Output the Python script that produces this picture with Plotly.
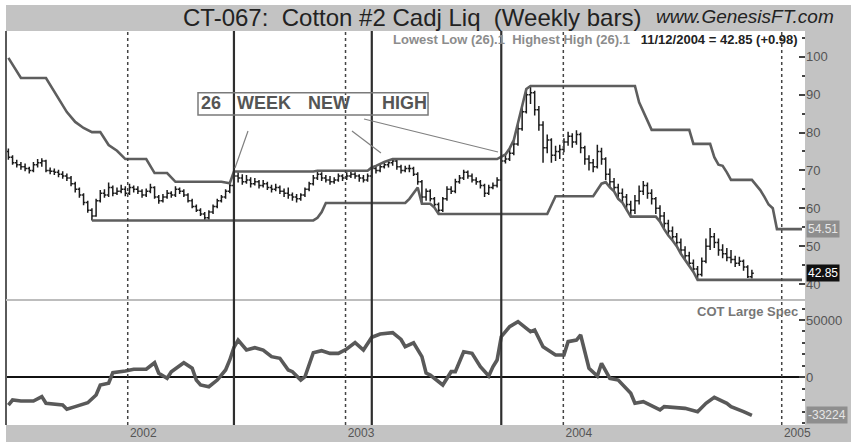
import plotly.graph_objects as go
import pandas as pd

# ---------------- data ----------------
first_week = "2001-06-15"      # weekly bars, Fridays
n_bars = 179                   # 2001-06-15 .. 2004-11-12
n_weeks_total = 191            # indicator lines run on to early Feb 2005

opens = [
    75.0, 73.5, 72.0, 71.5, 71.0, 70.5, 70.0, 71.5, 72.0, 72.5,
    70.0, 69.8, 69.5, 69.0, 68.5, 68.0, 66.5, 65.0, 63.5, 61.5,
    59.5, 58.0, 62.0, 64.0, 63.5, 65.5, 64.0, 64.5, 65.0, 64.0,
    65.5, 65.0, 64.5, 63.5, 64.5, 65.5, 63.0, 62.0, 63.0, 64.0,
    63.5, 65.0, 64.5, 63.5, 62.0, 60.5, 59.5, 58.5, 57.5, 59.0,
    60.5, 62.0, 63.0, 64.5, 66.0, 68.5, 68.0, 67.0, 67.5, 66.5,
    67.0, 66.0, 66.5, 65.5, 65.0, 65.5, 64.5, 64.0, 63.5, 63.0,
    62.5, 63.5, 65.0, 66.5, 68.0, 69.0, 68.0, 67.5, 67.0, 67.5,
    68.5, 68.0, 68.5, 69.0, 68.5, 68.0, 67.5, 68.5, 70.5, 70.0,
    71.0, 71.5, 72.0, 72.5, 71.0, 70.0, 70.5, 70.5, 69.0, 67.0,
    63.0, 64.5, 62.5, 61.0, 59.5, 62.5, 65.0, 64.5, 67.0, 68.0,
    69.5, 68.5, 67.5, 67.0, 66.0, 64.0, 65.5, 66.0, 67.5, 72.5,
    73.0, 74.5, 77.0, 81.0, 85.5, 90.0, 90.5, 86.0, 82.0, 76.0,
    78.0, 74.0, 75.0, 75.5, 77.5, 79.0, 77.5, 79.5, 76.0, 73.0,
    72.0, 71.0, 75.0, 73.0, 69.0, 67.0, 65.5, 64.0, 63.0, 61.0,
    59.5, 62.0, 64.5, 66.0, 64.0, 62.5, 60.0, 58.0, 56.0, 54.0,
    52.5, 51.0, 49.0, 47.5, 45.5, 44.0, 42.5, 46.0, 50.0, 52.5,
    51.0, 49.0, 48.0, 47.0, 46.5, 45.5, 46.0, 44.5, 41.9,
]
highs = [
    75.8, 74.0, 72.8, 72.2, 71.8, 71.0, 72.2, 73.0, 73.2, 72.8,
    70.8, 70.5, 70.2, 69.8, 69.2, 68.5, 67.0, 65.5, 64.0, 62.0,
    60.0, 62.5, 64.8, 65.0, 66.8, 66.0, 65.5, 66.2, 65.8, 66.5,
    66.0, 65.8, 65.0, 65.2, 66.5, 65.8, 63.5, 63.8, 64.8, 64.5,
    65.8, 65.5, 65.0, 64.0, 62.5, 61.0, 60.0, 59.0, 59.5, 61.0,
    62.5, 63.5, 65.0, 66.5, 69.7, 69.5, 69.0, 68.8, 68.2, 68.0,
    67.5, 67.5, 67.0, 66.2, 66.5, 66.0, 65.2, 65.5, 64.2, 63.8,
    64.0, 65.5, 67.0, 68.8, 69.9, 69.5, 68.8, 68.5, 68.2, 69.2,
    69.0, 69.5, 69.8, 69.5, 69.0, 68.8, 69.2, 70.8, 71.2, 71.8,
    72.2, 72.6, 73.0, 72.8, 71.5, 71.2, 71.5, 71.0, 69.5, 67.5,
    65.2, 65.0, 63.0, 61.5, 63.0, 65.8, 65.8, 67.8, 68.8, 70.2,
    70.0, 69.2, 68.2, 67.5, 66.5, 66.2, 66.8, 68.2, 73.5, 74.2,
    75.8, 78.0, 82.5, 87.0, 91.5, 92.3, 91.0, 87.0, 83.0, 79.5,
    78.5, 76.5, 76.8, 78.5, 80.2, 79.8, 80.6, 80.0, 76.5, 74.0,
    73.0, 76.8, 76.0, 73.5, 70.5, 68.0, 66.5, 65.2, 63.8, 62.0,
    63.5, 66.0, 67.2, 66.8, 65.0, 63.0, 60.8, 59.0, 57.0, 55.2,
    53.5, 52.0, 50.0, 48.5, 46.5, 44.8, 47.0, 52.0, 54.8, 53.5,
    52.0, 50.5, 49.5, 49.0, 47.5, 47.2, 46.5, 45.0, 43.8,
]
lows = [
    72.8, 71.5, 70.8, 70.2, 69.8, 69.2, 69.5, 70.8, 71.0, 69.5,
    69.0, 68.8, 68.2, 67.8, 67.2, 65.8, 64.2, 62.8, 60.8, 58.8,
    56.8, 57.8, 61.5, 62.8, 63.0, 63.2, 63.5, 64.0, 63.2, 63.5,
    64.2, 63.8, 62.8, 63.0, 64.0, 62.5, 61.2, 61.5, 62.5, 62.8,
    63.0, 63.8, 63.0, 61.5, 60.0, 59.0, 58.0, 56.8, 57.0, 58.5,
    60.0, 61.5, 62.5, 64.0, 65.5, 66.8, 66.2, 66.5, 65.5, 66.0,
    65.2, 65.5, 64.8, 64.2, 64.5, 63.8, 63.0, 62.5, 62.0, 61.5,
    62.0, 63.0, 64.5, 66.0, 67.5, 67.2, 66.8, 66.2, 66.5, 67.0,
    67.2, 67.5, 68.0, 67.8, 67.0, 66.8, 67.0, 68.0, 69.2, 69.5,
    70.5, 70.8, 71.2, 70.2, 69.2, 69.5, 69.5, 68.5, 66.2, 61.2,
    62.0, 61.8, 60.2, 58.5, 59.0, 62.0, 63.8, 64.0, 66.5, 67.5,
    67.8, 66.8, 66.2, 65.2, 63.0, 63.5, 65.0, 65.5, 67.2, 71.8,
    72.5, 74.0, 76.5, 80.5, 85.0, 87.5, 84.5, 80.5, 72.0, 74.5,
    72.0, 72.5, 73.0, 74.8, 76.5, 76.0, 76.8, 74.5, 71.5, 70.0,
    69.5, 70.5, 71.5, 67.5, 65.5, 64.5, 62.5, 61.5, 59.5, 57.8,
    58.5, 61.0, 63.5, 62.5, 61.0, 58.5, 56.5, 54.5, 52.8, 51.5,
    50.0, 48.0, 46.5, 44.8, 43.2, 41.1, 42.0, 45.5, 49.0, 49.5,
    47.5, 46.8, 46.0, 45.5, 44.5, 44.8, 43.5, 41.6, 41.5,
]
closes = [
    73.5, 72.0, 71.5, 71.0, 70.5, 70.0, 71.5, 72.0, 72.5, 70.0,
    69.8, 69.5, 69.0, 68.5, 68.0, 66.5, 65.0, 63.5, 61.5, 59.5,
    58.0, 62.0, 64.0, 63.5, 65.5, 64.0, 64.5, 65.0, 64.0, 65.5,
    65.0, 64.5, 63.5, 64.5, 65.5, 63.0, 62.0, 63.0, 64.0, 63.5,
    65.0, 64.5, 63.5, 62.0, 60.5, 59.5, 58.5, 57.5, 59.0, 60.5,
    62.0, 63.0, 64.5, 66.0, 68.5, 68.0, 67.0, 67.5, 66.5, 67.0,
    66.0, 66.5, 65.5, 65.0, 65.5, 64.5, 64.0, 63.5, 63.0, 62.5,
    63.5, 65.0, 66.5, 68.0, 69.0, 68.0, 67.5, 67.0, 67.5, 68.5,
    68.0, 68.5, 69.0, 68.5, 68.0, 67.5, 68.5, 70.5, 70.0, 71.0,
    71.5, 72.0, 72.5, 71.0, 70.0, 70.5, 70.5, 69.0, 67.0, 63.0,
    64.5, 62.5, 61.0, 59.5, 62.5, 65.0, 64.5, 67.0, 68.0, 69.5,
    68.5, 67.5, 67.0, 66.0, 64.0, 65.5, 66.0, 67.5, 72.5, 73.0,
    74.5, 77.0, 81.0, 85.5, 90.0, 90.5, 86.0, 82.0, 76.0, 78.0,
    74.0, 75.0, 75.5, 77.5, 79.0, 77.5, 79.5, 76.0, 73.0, 72.0,
    71.0, 75.0, 73.0, 69.0, 67.0, 65.5, 64.0, 63.0, 61.0, 59.5,
    62.0, 64.5, 66.0, 64.0, 62.5, 60.0, 58.0, 56.0, 54.0, 52.5,
    51.0, 49.0, 47.5, 45.5, 44.0, 42.5, 46.0, 50.0, 52.5, 51.0,
    49.0, 48.0, 47.0, 46.5, 45.5, 46.0, 44.5, 41.9, 42.85,
]

# Highest High (26) - vertices (week index, value)
hh_weeks = [0, 3, 9, 11, 14, 16, 18, 20, 22, 24, 25, 26, 28, 33, 35, 38, 40, 51, 53, 54,
            73, 74, 86, 87, 88, 89, 90, 91, 92, 117, 118, 119, 120, 121, 122, 123, 124, 125,
            150, 151, 152, 153, 154, 163, 164, 168, 169, 170, 171, 172, 173, 178, 180, 181,
            182, 183, 184, 190]
hh_vals = [99.7, 94.4, 94.4, 90.7, 85.4, 82.8, 81.2, 80.1, 80.1, 76.7, 75.9, 75.2, 73.0, 73.0,
           69.3, 69.3, 67.0, 67.0, 66.6, 69.7, 69.7, 69.9, 69.9, 70.8, 71.2, 71.8, 72.2, 72.6,
           73.0, 73.0, 73.5, 74.2, 75.8, 78.0, 82.5, 87.0, 91.5, 92.3, 92.3, 88.0, 85.4, 83.3,
           80.7, 80.7, 77.0, 77.0, 73.5, 71.5, 71.2, 69.5, 67.5, 67.5, 64.8, 63.0, 61.0, 60.0,
           54.51, 54.51]

# Lowest Low (26) - vertices (week index, value); before week 20 it hides under the bar lows
ll_weeks = [20, 73, 74, 75, 76,
            95, 96, 97, 98, 99, 101, 102, 103, 129, 130, 131, 140, 141, 142, 143, 144, 145,
            146, 147, 148, 149, 155, 156, 157, 158, 159, 160, 161, 162, 163, 164, 165, 190]
ll_vals = [56.8, 56.8, 57.5, 59.0, 61.4, 61.4, 62.5, 64.0, 65.5, 61.2, 61.2, 60.2,
           58.5, 58.5, 61.0, 63.2, 63.2, 65.0, 66.5, 66.9, 65.5, 64.5, 62.5, 61.5, 59.5, 57.8,
           57.8, 56.5, 54.5, 52.8, 51.5, 50.0, 48.0, 46.5, 44.8, 43.2, 41.1, 41.1]

# COT Large Spec net position - vertices (week index, contracts)
cot_weeks = [0, 1, 3, 6, 8, 9, 13, 14, 16, 19, 21, 22, 24, 25, 28, 30, 33, 35, 36, 38, 39,
             42, 44, 45, 46, 48, 50, 52, 53, 54, 55, 57, 59, 61, 63, 65, 67, 68, 70, 71, 73,
             75, 77, 79, 81, 83, 85, 87, 89, 92, 94, 95, 97, 99, 100, 101, 104, 106, 107, 109,
             111, 113, 115, 116, 117, 118, 120, 122, 125, 126, 128, 131, 133, 134, 136, 137,
             139, 141, 142, 144, 146, 149, 150, 152, 156, 157, 162, 165, 167, 169, 172, 173,
             176, 178]
cot_vals = [-24200, -19800, -20700, -20700, -16900, -22700, -24200, -27900, -25600, -22200,
            -15400, -6700, -5200, 4000, 5500, 7000, 7000, 12700, 3500, -900, 4900, 12700,
            7900, -2400, -6700, -8200, -2400, 6400, 15100, 26000, 32500, 23800, 25800, 23800,
            18000, 16600, 6400, 4900, -2400, 500, 21500, 23200, 20900, 20900, 24700, 30200,
            23800, 34900, 37800, 38900, 33000, 26700, 30000, 18000, 3700, 2000, -6700, 4900,
            4900, 22300, 20900, 9200, 1100, 9200, 15100, 35400, 44200, 48500, 39800, 41300,
            26700, 19500, 19500, 31100, 32500, 36900, 7900, 1100, 12200, -900, -2400, -14000,
            -22700, -21300, -28500, -25600, -27100, -30000, -22700, -17500, -22700, -25600,
            -30000, -33224]

signal_dates = ["2002-06-28", "2003-02-14", "2003-09-19"]
year_starts = ["2002-01-01", "2003-01-01", "2004-01-01", "2005-01-01"]
year_label_dates = ["2002-01-27", "2003-01-27", "2004-01-27", "2005-01-27"]
year_labels = ["2002", "2003", "2004", "2005"]
cot_tick_vals = [0, 50000]
cot_tick_text = ["0", "50000"]
last_close_label = "42.85"
last_hh_label = "54.51"
last_cot_label = "-33224"
header_text = "11/12/2004 = 42.85 (+0.98)"

# ---------------- figure ----------------
weeks = pd.date_range(first_week, periods=n_weeks_total, freq="W-FRI")
bar_dates = weeks[:n_bars]

FONT = "Arial, Liberation Sans, sans-serif"
GREY_BAND = "#c3c3c3"

fig = go.Figure()
fig.add_trace(go.Ohlc(
    x=bar_dates, open=opens, high=highs, low=lows, close=closes,
    increasing=dict(line=dict(color="#1c1c1c", width=1.5)),
    decreasing=dict(line=dict(color="#1c1c1c", width=1.5)),
    tickwidth=0.45, xaxis="x", yaxis="y", hoverinfo="skip"))
fig.add_trace(go.Scatter(x=weeks[hh_weeks], y=hh_vals, mode="lines",
                         line=dict(color="#5e5e5e", width=2.6), xaxis="x", yaxis="y"))
fig.add_trace(go.Scatter(x=weeks[ll_weeks], y=ll_vals, mode="lines",
                         line=dict(color="#5e5e5e", width=2.6), xaxis="x", yaxis="y"))
fig.add_trace(go.Scatter(x=weeks[cot_weeks], y=cot_vals, mode="lines",
                         line=dict(color="#595959", width=3.6), xaxis="x", yaxis="y2"))

shapes = []
# grey frame bands (title band, right axis band, bottom axis band)
shapes.append(dict(type="rect", xref="paper", yref="paper", x0=0, x1=1.06, y0=1.0, y1=1.066,
                   fillcolor=GREY_BAND, line=dict(width=0), layer="below"))
shapes.append(dict(type="rect", xref="paper", yref="paper", x0=1.0, x1=1.06, y0=-0.05, y1=1.066,
                   fillcolor=GREY_BAND, line=dict(width=0), layer="below"))
shapes.append(dict(type="rect", xref="paper", yref="paper", x0=0, x1=1.06, y0=-0.05, y1=0,
                   fillcolor=GREY_BAND, line=dict(width=0), layer="below"))
# left border and panel separator
shapes.append(dict(type="line", xref="paper", yref="paper", x0=0, x1=0, y0=0, y1=1,
                   line=dict(color="#5a5a5a", width=2)))
shapes.append(dict(type="line", xref="paper", yref="paper", x0=0, x1=1, y0=0.3173, y1=0.3173,
                   line=dict(color="#bdbdbd", width=2)))
# dotted year lines
for d in year_starts:
    shapes.append(dict(type="line", xref="x", yref="paper", x0=d, x1=d, y0=0, y1=1,
                       line=dict(color="#444", width=1.5, dash="dot")))
# solid signal lines
for d in signal_dates:
    shapes.append(dict(type="line", xref="x", yref="paper", x0=d, x1=d, y0=0, y1=1,
                       line=dict(color="#2e2e2e", width=2.2)))
# annotation box and pointer lines
shapes.append(dict(type="rect", xref="paper", yref="paper", x0=0.2403, x1=0.5282,
                   y0=0.7868, y1=0.8434, line=dict(color="#7a7a7a", width=1.5)))
for (x0, y0, x1, y1) in [(0.3029, 0.7462, 0.2866, 0.6523),
                         (0.4330, 0.7462, 0.4693, 0.6904),
                         (0.4481, 0.7766, 0.6158, 0.6929)]:
    shapes.append(dict(type="line", xref="paper", yref="paper", x0=x0, y0=y0, x1=x1, y1=y1,
                       line=dict(color="#808080", width=1.2)))

annotations = []
annotations.append(dict(xref="paper", yref="paper", x=0.508, y=1.034, xanchor="center",
                        yanchor="middle", showarrow=False,
                        text="CT-067:  Cotton #2 Cadj Liq  (Weekly bars)",
                        font=dict(family=FONT, size=24, color="#222")))
annotations.append(dict(xref="paper", yref="paper", x=0.925, y=1.038, xanchor="center",
                        yanchor="middle", showarrow=False, text="<i>www.GenesisFT.com</i>",
                        font=dict(family=FONT, size=19, color="#222")))
annotations.append(dict(xref="paper", yref="paper", x=0.9937, y=0.9772, xanchor="right",
                        yanchor="middle", showarrow=False,
                        text="<b><span style='color:#8c8c8c'>Lowest Low (26).1  Highest High (26).1</span>"
                             "   " + header_text + "</b>",
                        font=dict(family=FONT, size=13, color="#222")))
annotations.append(dict(xref="paper", yref="paper", x=0.9937, y=0.2893, xanchor="right",
                        yanchor="middle", showarrow=False, text="<b>COT Large Spec</b>",
                        font=dict(family=FONT, size=13, color="#777")))
for word, xp in [("26", 0.2566), ("WEEK", 0.3223), ("NEW", 0.4043), ("HIGH", 0.4987)]:
    annotations.append(dict(xref="paper", yref="paper", x=xp, y=0.816, xanchor="center",
                            yanchor="middle", showarrow=False, text="<b>" + word + "</b>",
                            font=dict(family=FONT, size=18, color="#555")))
annotations.append(dict(xref="paper", yref="y", x=1.0, y=hh_vals[-1], xanchor="left",
                        yanchor="middle", showarrow=False, text=last_hh_label,
                        bgcolor="#8e8e8e", borderpad=1, xshift=1,
                        font=dict(family=FONT, size=12, color="#e6e6e6")))
annotations.append(dict(xref="paper", yref="y", x=1.0, y=closes[-1], xanchor="left",
                        yanchor="middle", showarrow=False, text=last_close_label,
                        bgcolor="#111111", borderpad=1, xshift=1,
                        font=dict(family=FONT, size=12, color="#ffffff")))
annotations.append(dict(xref="paper", yref="y2", x=1.0, y=cot_vals[-1], xanchor="left",
                        yanchor="middle", showarrow=False, text=last_cot_label,
                        bgcolor="#8e8e8e", borderpad=1, xshift=1,
                        font=dict(family=FONT, size=12, color="#e6e6e6")))

fig.update_layout(
    width=851, height=442, autosize=False,
    margin=dict(l=6, r=46, t=31, b=17, pad=0),
    paper_bgcolor="white", plot_bgcolor="white",
    showlegend=False,
    font=dict(family=FONT, size=13, color="#555"),
    shapes=shapes, annotations=annotations,
    xaxis=dict(domain=[0, 1], anchor="y2", type="date", automargin=False,
               range=["2001-06-11", "2005-02-09"],
               showgrid=False, zeroline=False, showline=False,
               tickmode="array", tickvals=year_label_dates, ticktext=year_labels,
               ticks="", ticklabelstandoff=-1,
               tickfont=dict(family=FONT, size=12, color="#555"),
               rangeslider=dict(visible=False), fixedrange=True),
    yaxis=dict(domain=[0.3173, 1], anchor="x", side="right", range=[35.8, 106.8],
               automargin=False,
               showgrid=False, zeroline=False, showline=False,
               tickmode="linear", tick0=0, dtick=10, ticks="inside", ticklen=6,
               tickwidth=1.5, tickcolor="#444",
               minor=dict(dtick=5, tick0=0, ticks="inside", ticklen=3, tickcolor="#444",
                          showgrid=False),
               tickfont=dict(family=FONT, size=13, color="#555")),
    yaxis2=dict(domain=[0, 0.3173], anchor="x", side="right", range=[-41620, 67450],
                automargin=False,
                showgrid=False, showline=False,
                zeroline=True, zerolinecolor="#111", zerolinewidth=2,
                tickmode="array", tickvals=cot_tick_vals, ticktext=cot_tick_text,
                ticks="inside", ticklen=6, tickwidth=1.5, tickcolor="#444",
                minor=dict(tickmode="linear", tick0=0, dtick=10000, ticks="inside",
                           ticklen=3, tickcolor="#444", showgrid=False),
                tickfont=dict(family=FONT, size=13, color="#555")),
)

fig.write_html("out.html", config={"displayModeBar": False},
               post_script="document.body.style.margin='0';document.body.style.overflow='hidden';")
